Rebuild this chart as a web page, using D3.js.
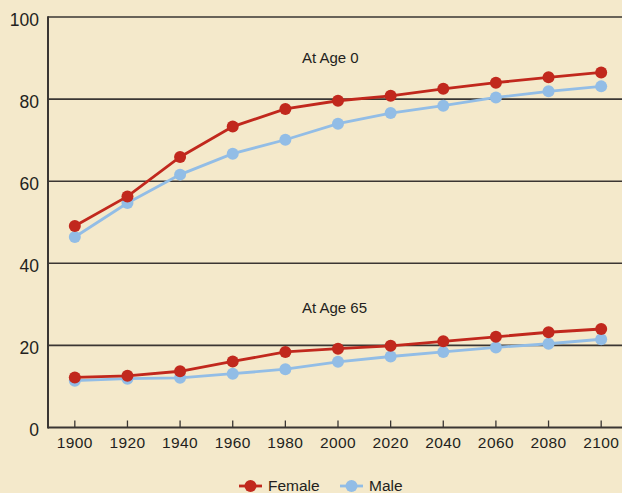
<!DOCTYPE html>
<html>
<head>
<meta charset="utf-8">
<script src="https://cdn.jsdelivr.net/npm/d3@7"></script>
<style>
  html, body { margin: 0; padding: 0; background: #f4e9cb; }
  svg { display: block; }
  text { font-family: "Liberation Sans", Arial, Helvetica, sans-serif; fill: #231f20; }
</style>
</head>
<body>
<svg id="chart" width="622" height="493"></svg>
<script>
const years = [1900, 1920, 1940, 1960, 1980, 2000, 2020, 2040, 2060, 2080, 2100];
const femaleAge0 = [49.1, 56.3, 65.9, 73.3, 77.6, 79.6, 80.8, 82.5, 84.0, 85.3, 86.5];
const maleAge0   = [46.4, 54.7, 61.6, 66.7, 70.1, 74.0, 76.6, 78.4, 80.4, 81.9, 83.1];
const femaleAge65 = [12.2, 12.6, 13.7, 16.1, 18.4, 19.2, 19.9, 21.0, 22.1, 23.2, 24.0];
const maleAge65   = [11.4, 11.9, 12.1, 13.1, 14.2, 16.0, 17.3, 18.4, 19.5, 20.4, 21.5];
const yTicks = [0, 20, 40, 60, 80, 100];
const seriesNames = ["Female", "Male"];
const seriesColors = ["#c1281d", "#92bde6"];
const panelLabels = ["At Age 0", "At Age 65"];

(function () {
const svg = d3.select("#chart");
const W = 622, H = 493;
svg.append("rect").attr("width", W).attr("height", H).attr("fill", "#f4e9cb");

const mLeft = 48, mTop = 17, mBottom = 427.5;
const x = d3.scaleLinear().domain([1890, 2110]).range([48.5, 627.5]);
const y = d3.scaleLinear().domain([0, 100]).range([mBottom, mTop]);

// gridlines
svg.append("g").selectAll("line").data(yTicks.filter(d => d > 0)).join("line")
  .attr("x1", mLeft).attr("x2", W)
  .attr("y1", d => y(d)).attr("y2", d => y(d))
  .attr("stroke", "#3a3633").attr("stroke-width", 1.6);

// x axis baseline and ticks (inward)
svg.append("line").attr("x1", mLeft).attr("x2", W).attr("y1", mBottom).attr("y2", mBottom)
  .attr("stroke", "#3a3633").attr("stroke-width", 2);
svg.append("g").selectAll("line").data(years).join("line")
  .attr("x1", d => x(d)).attr("x2", d => x(d))
  .attr("y1", mBottom).attr("y2", mBottom - 7)
  .attr("stroke", "#3a3633").attr("stroke-width", 1.3);

// left axis line
svg.append("line").attr("x1", mLeft).attr("x2", mLeft).attr("y1", mTop - 0.8).attr("y2", mBottom + 1)
  .attr("stroke", "#3a3633").attr("stroke-width", 2);

// y labels
svg.append("g").selectAll("text").data(yTicks).join("text")
  .attr("x", 39).attr("y", d => y(d) + 4)
  .attr("text-anchor", "end").attr("dominant-baseline", "middle")
  .attr("font-size", 17.5)
  .text(d => d);

// x labels
svg.append("g").selectAll("text").data(years).join("text")
  .attr("x", d => x(d)).attr("y", 444)
  .attr("text-anchor", "middle").attr("dominant-baseline", "middle")
  .attr("font-size", 15.5).attr("letter-spacing", 0.4)
  .text(d => d);

// series
const groups = [
  {vals: femaleAge0, c: 0}, {vals: maleAge0, c: 1},
  {vals: maleAge65, c: 1}, {vals: femaleAge65, c: 0}
];
const line = d3.line().x((d, i) => x(years[i])).y(d => y(d));
const order = [1, 0, 2, 3];
order.forEach(k => {
  const g = groups[k];
  svg.append("path").datum(g.vals).attr("d", line)
    .attr("fill", "none").attr("stroke", seriesColors[g.c]).attr("stroke-width", 2.8);
  svg.append("g").selectAll("circle").data(g.vals).join("circle")
    .attr("cx", (d, i) => x(years[i])).attr("cy", d => y(d)).attr("r", 6)
    .attr("fill", seriesColors[g.c]);
});

// panel labels
svg.append("text").attr("x", 302).attr("y", 59).attr("dominant-baseline", "middle")
  .attr("font-size", 15).text(panelLabels[0]);
svg.append("text").attr("x", 302).attr("y", 309).attr("dominant-baseline", "middle")
  .attr("font-size", 15).text(panelLabels[1]);

// legend
const legX = [239, 340];
seriesNames.forEach((n, i) => {
  const g = svg.append("g");
  g.append("line").attr("x1", legX[i]).attr("x2", legX[i] + 23).attr("y1", 486).attr("y2", 486)
    .attr("stroke", seriesColors[i]).attr("stroke-width", 2.8);
  g.append("circle").attr("cx", legX[i] + 11.5).attr("cy", 486).attr("r", 6).attr("fill", seriesColors[i]);
  g.append("text").attr("x", legX[i] + 29).attr("y", 487).attr("dominant-baseline", "middle")
    .attr("font-size", 15.5).text(n);
});
})();
</script>
</body>
</html>
